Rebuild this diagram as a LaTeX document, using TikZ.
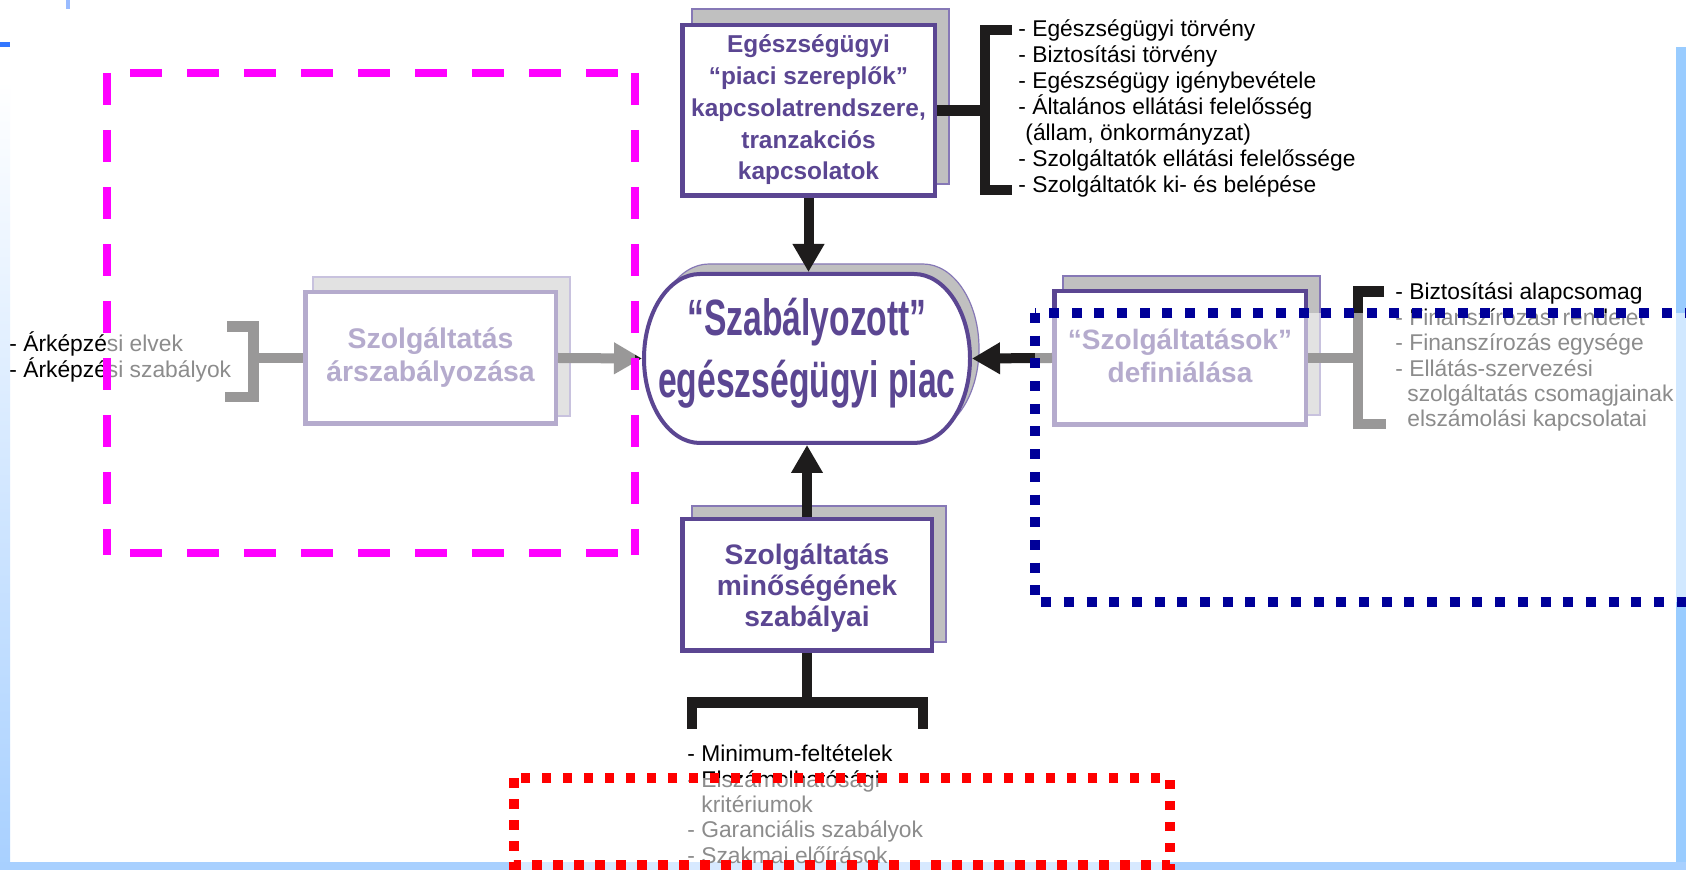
\documentclass[tikz,border=0pt]{standalone}
\usepackage{fontspec}
\setmainfont{Liberation Sans}
\newfontfamily\ovalfont[FakeStretch=0.66]{Liberation Sans}
\usetikzlibrary{arrows.meta}
\definecolor{purp}{RGB}{91,70,146}
\definecolor{shadowgray}{RGB}{192,192,192}
\definecolor{shadowline}{RGB}{134,120,182}
\definecolor{arrowblack}{RGB}{30,28,28}
\definecolor{magentaline}{RGB}{255,0,255}
\definecolor{blueline}{RGB}{0,0,153}
\definecolor{redline}{RGB}{255,0,0}
\definecolor{stripblue}{RGB}{153,204,255}
\definecolor{stripblue2}{RGB}{168,208,255}
\definecolor{markblue}{RGB}{51,119,255}
\definecolor{ticklight}{RGB}{153,187,255}
\newcommand\myovalpath{(700,274) -- (914,274) arc[start angle=-90, end angle=90, x radius=56, y radius=84.5] -- (700,443) arc[start angle=90, end angle=270, x radius=56, y radius=84.5] -- cycle}
\begin{document}
\setlength{\lineskiplimit}{-5pt}
\begin{tikzpicture}[x=0.5pt,y=-0.5pt,
  box/.style={draw=purp, line width=2.25pt, fill=white, inner sep=0pt},
  shadowbox/.style={fill=shadowgray, draw=shadowline, line width=0.6pt},
  boxtext/.style={text=purp, align=center, anchor=base, inner sep=0pt},
  listtext/.style={text=black, align=left, anchor=base west, inner sep=0pt},
  bracketline/.style={draw=arrowblack, line width=5.25pt, line join=miter},
  flowarrow/.style={draw=arrowblack, line width=5pt, -{Triangle[width=15pt,length=14pt]}},
  fade/.style={fill=white, fill opacity=0.55},
  magentaside/.style={draw=magentaline, line width=3.75pt, dash pattern=on 16pt off 12.5pt},
  magentatop/.style={magentaside, dash phase=17pt},
  bluebox/.style={draw=blueline, line width=5pt, dash pattern=on 5pt off 6.35pt},
  redbox/.style={draw=redline, line width=4.75pt, dash pattern=on 4.75pt off 5.75pt},
]
\useasboundingbox (0,0) rectangle (1686,870);
\clip (0,0) rectangle (1686,870);
\fill[white] (0,0) rectangle (1686,870);
% slide decorations
\shade[top color=white, bottom color=stripblue2] (0,80) rectangle (10,870);
\fill[stripblue] (1676,47) rectangle (1686,870);
\fill[stripblue2] (0,862) rectangle (1686,870);
\fill[ticklight] (66,0) rectangle (70,9);
\fill[markblue] (0,42) rectangle (10,47);
% shadows
\draw[shadowbox] (692,9) rectangle (949,184);
\draw[shadowbox] (692,506) rectangle (946,642);
\draw[shadowbox] (313,277) rectangle (570,416);
\draw[shadowbox] (1063,276) rectangle (1320,415);
\begin{scope}[shift={(9,-10)}]
  \draw[shadowbox] \myovalpath;
\end{scope}
% boxes
\node[box, minimum width=126.25pt, minimum height=85.25pt] (topbox) at (808.5,110.5) {};
\node[box, minimum width=124.75pt, minimum height=65.75pt] (bottombox) at (807,585) {};
\node[box, minimum width=125.25pt, minimum height=65.75pt] (leftbox) at (430.5,358) {};
\node[box, minimum width=125.75pt, minimum height=66.75pt] (rightbox) at (1180,358) {};
\draw[draw=purp, line width=2pt, fill=white] \myovalpath;
\node[inner sep=0pt, outer sep=0pt, minimum width=165pt, minimum height=86.5pt] (oval) at (807,358.5) {};
% texts (anchor base = baseline of the last line)
\node[boxtext, font=\fontsize{12.2}{15.9}\selectfont\bfseries] (toptext) at (808.5,180)
  {Egészségügyi\\“piaci szereplők”\\kapcsolatrendszere,\\tranzakciós\\kapcsolatok};
\node[boxtext, font=\fontsize{14.1}{15.5}\selectfont\bfseries] (bottomtext) at (807,627)
  {Szolgáltatás\\minőségének\\szabályai};
\node[boxtext, font=\fontsize{14.2}{16.5}\selectfont\bfseries] (lefttext) at (430.5,382)
  {Szolgáltatás\\árszabályozása};
\node[boxtext, font=\fontsize{14}{16.5}\selectfont\bfseries] (righttext) at (1180,383)
  {“Szolgáltatások”\\definiálása};
\node[boxtext, font=\ovalfont\bfseries\fontsize{25.5}{31}\selectfont] (ovaltext) at (807,398)
  {“Szabályozott”\\egészségügyi piac};
% arrows
\draw[flowarrow] (topbox.south) -- (topbox.south |- oval.north);
\draw[flowarrow] (bottombox.north) -- (bottombox.north |- oval.south);
\draw[flowarrow] (rightbox.west) -- (oval.east);
\draw[flowarrow] (leftbox.east) -- (oval.west);
% brackets
\coordinate (topbr) at (985,110.5);
\draw[bracketline] (1012,30) -- (985,30) -- (985,190) -- (1012,190);
\draw[bracketline] (topbox.east) -- (topbr);
\coordinate (rightbr) at (1358,358);
\draw[bracketline] (1384,291.5) -- (1358,291.5) -- (1358,424) -- (1386,424);
\draw[bracketline] (rightbox.east) -- (rightbr);
\coordinate (leftbr) at (253.5,358);
\draw[bracketline] (227,326.5) -- (253.5,326.5) -- (253.5,397) -- (225,397);
\draw[bracketline] (leftbr) -- (leftbox.west);
\coordinate (bottombr) at (807,702.5);
\draw[bracketline] (692,729) -- (692,702.5) -- (923,702.5) -- (923,729);
\draw[bracketline] (bottombox.south) -- (bottombr);
% lists
\node[listtext, font=\fontsize{11.4}{13}\selectfont] (toplist) at (1018,193)
  {- Egészségügyi törvény\\- Biztosítási törvény\\- Egészségügy igénybevétele\\- Általános ellátási felelősség\\\hspace{3.5pt}(állam, önkormányzat)\\- Szolgáltatók ellátási felelőssége\\- Szolgáltatók ki- és belépése};
\node[listtext, font=\fontsize{11.4}{12.7}\selectfont] (rightlist) at (1395,427)
  {- Biztosítási alapcsomag\\- Finanszírozási rendelet\\- Finanszírozás egysége\\- Ellátás-szervezési\\\hspace{6pt}szolgáltatás csomagjainak\\\hspace{6pt}elszámolási kapcsolatai};
\node[listtext, font=\fontsize{11.4}{12.65}\selectfont] (bottomlist) at (687,863)
  {- Minimum-feltételek\\- Elszámolhatósági\\\hspace{7pt}kritériumok\\- Garanciális szabályok\\- Szakmai előírások};
\node[listtext, font=\fontsize{11.4}{13}\selectfont] (leftlist) at (9,378)
  {- Árképzési elvek\\- Árképzési szabályok};
% faded regions
\fill[fade] (107,73) rectangle (635,553);
\fill[fade] (1035,313) rectangle (1700,602);
\fill[fade] (514,778) rectangle (1170,880);
% region borders
\draw[magentaside] (107,73) -- (107,555);
\draw[magentaside] (635,73) -- (635,555);
\draw[magentatop] (107,73) -- (635,73);
\draw[magentatop] (107,553) -- (635,553);
\draw[bluebox] (1035,313) rectangle (1700,602);
\draw[redbox] (514,778) rectangle (1170,865);
\end{tikzpicture}
\end{document}
